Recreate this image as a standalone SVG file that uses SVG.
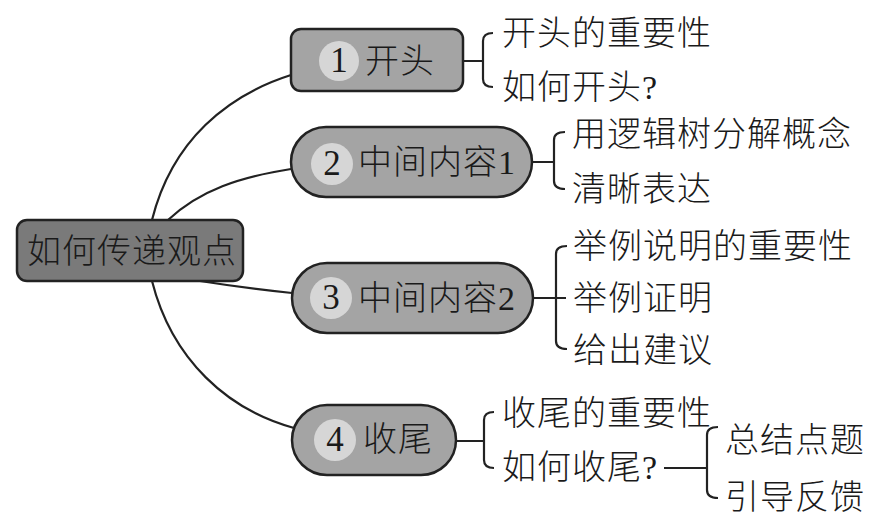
<svg xmlns="http://www.w3.org/2000/svg" width="875" height="524" viewBox="0 0 875 524">
<style>
.t{font-family:"Liberation Serif","Noto Sans CJK SC",serif;font-size:34px;font-weight:300;fill:#1a1a1a;letter-spacing:1px}
.n{font-family:"Liberation Serif","Noto Sans CJK SC",serif;font-size:35px;fill:#1a1a1a;text-anchor:middle}
.root{fill:#7a7a7a;stroke:#222;stroke-width:2.5}
.node{fill:#a4a4a4;stroke:#222;stroke-width:2.5}
.dot{fill:#d6d6d6}
.c{fill:none;stroke:#222;stroke-width:2.2}
</style>
<rect width="875" height="524" fill="#fff"/>
<g id="connectors">
<path class="c" d="M152,220 C172,140 228,95 291,75"/>
<path class="c" d="M168,220 C200,190 240,177 291,169"/>
<path class="c" d="M200,281 C232,286 262,290 292,293"/>
<path class="c" d="M152,281 C172,360 228,410 294,428"/>
<path class="c" d="M463,61 H483 M493,33 Q483,33 483,41 V79 Q483,87 493,87"/>
<path class="c" d="M532,162 H554 M565,132 Q554,132 554,140 V181 Q554,189 565,189"/>
<path class="c" d="M532,298 H566 M567,246 Q556,246 556,254 V341 Q556,349 567,349"/>
<path class="c" d="M455,441 H484 M494,412 Q484,412 484,420 V460 Q484,468 494,468"/>
<path class="c" d="M664,468 H707 M718,427 Q707,427 707,435 V490 Q707,498 718,498"/>
</g>
<g id="root">
<rect class="root" x="17" y="220" width="226" height="61" rx="10"/>
<text class="t" x="27" y="263">如何传递观点</text>
</g>
<g id="n1">
<rect class="node" x="291" y="29" width="172" height="62" rx="10"/>
<circle class="dot" cx="339" cy="61" r="20"/>
<text class="n" x="339" y="72">1</text>
<text class="t" x="365" y="73">开头</text>
</g>
<g id="n2">
<rect class="node" x="291" y="127" width="241" height="70" rx="35"/>
<circle class="dot" cx="332" cy="164" r="21"/>
<text class="n" x="332" y="175">2</text>
<text class="t" x="358" y="174">中间内容1</text>
</g>
<g id="n3">
<rect class="node" x="292" y="263" width="241" height="70" rx="35"/>
<circle class="dot" cx="331" cy="298" r="21"/>
<text class="n" x="331" y="309">3</text>
<text class="t" x="358" y="310">中间内容2</text>
</g>
<g id="n4">
<rect class="node" x="292" y="405" width="164" height="70" rx="35"/>
<circle class="dot" cx="335" cy="440" r="21"/>
<text class="n" x="335" y="451">4</text>
<text class="t" x="363" y="451">收尾</text>
</g>
<g id="l1a"><text class="t" x="502" y="45">开头的重要性</text></g>
<g id="l1b"><text class="t" x="502" y="99">如何开头?</text></g>
<g id="l2a"><text class="t" x="572" y="146">用逻辑树分解概念</text></g>
<g id="l2b"><text class="t" x="572" y="201">清晰表达</text></g>
<g id="l3a"><text class="t" x="573" y="258">举例说明的重要性</text></g>
<g id="l3b"><text class="t" x="573" y="310">举例证明</text></g>
<g id="l3c"><text class="t" x="573" y="362">给出建议</text></g>
<g id="l4a"><text class="t" x="502" y="425">收尾的重要性</text></g>
<g id="l4b"><text class="t" x="502" y="479">如何收尾?</text></g>
<g id="l4b1"><text class="t" x="725" y="452">总结点题</text></g>
<g id="l4b2"><text class="t" x="725" y="509">引导反馈</text></g>
</svg>
